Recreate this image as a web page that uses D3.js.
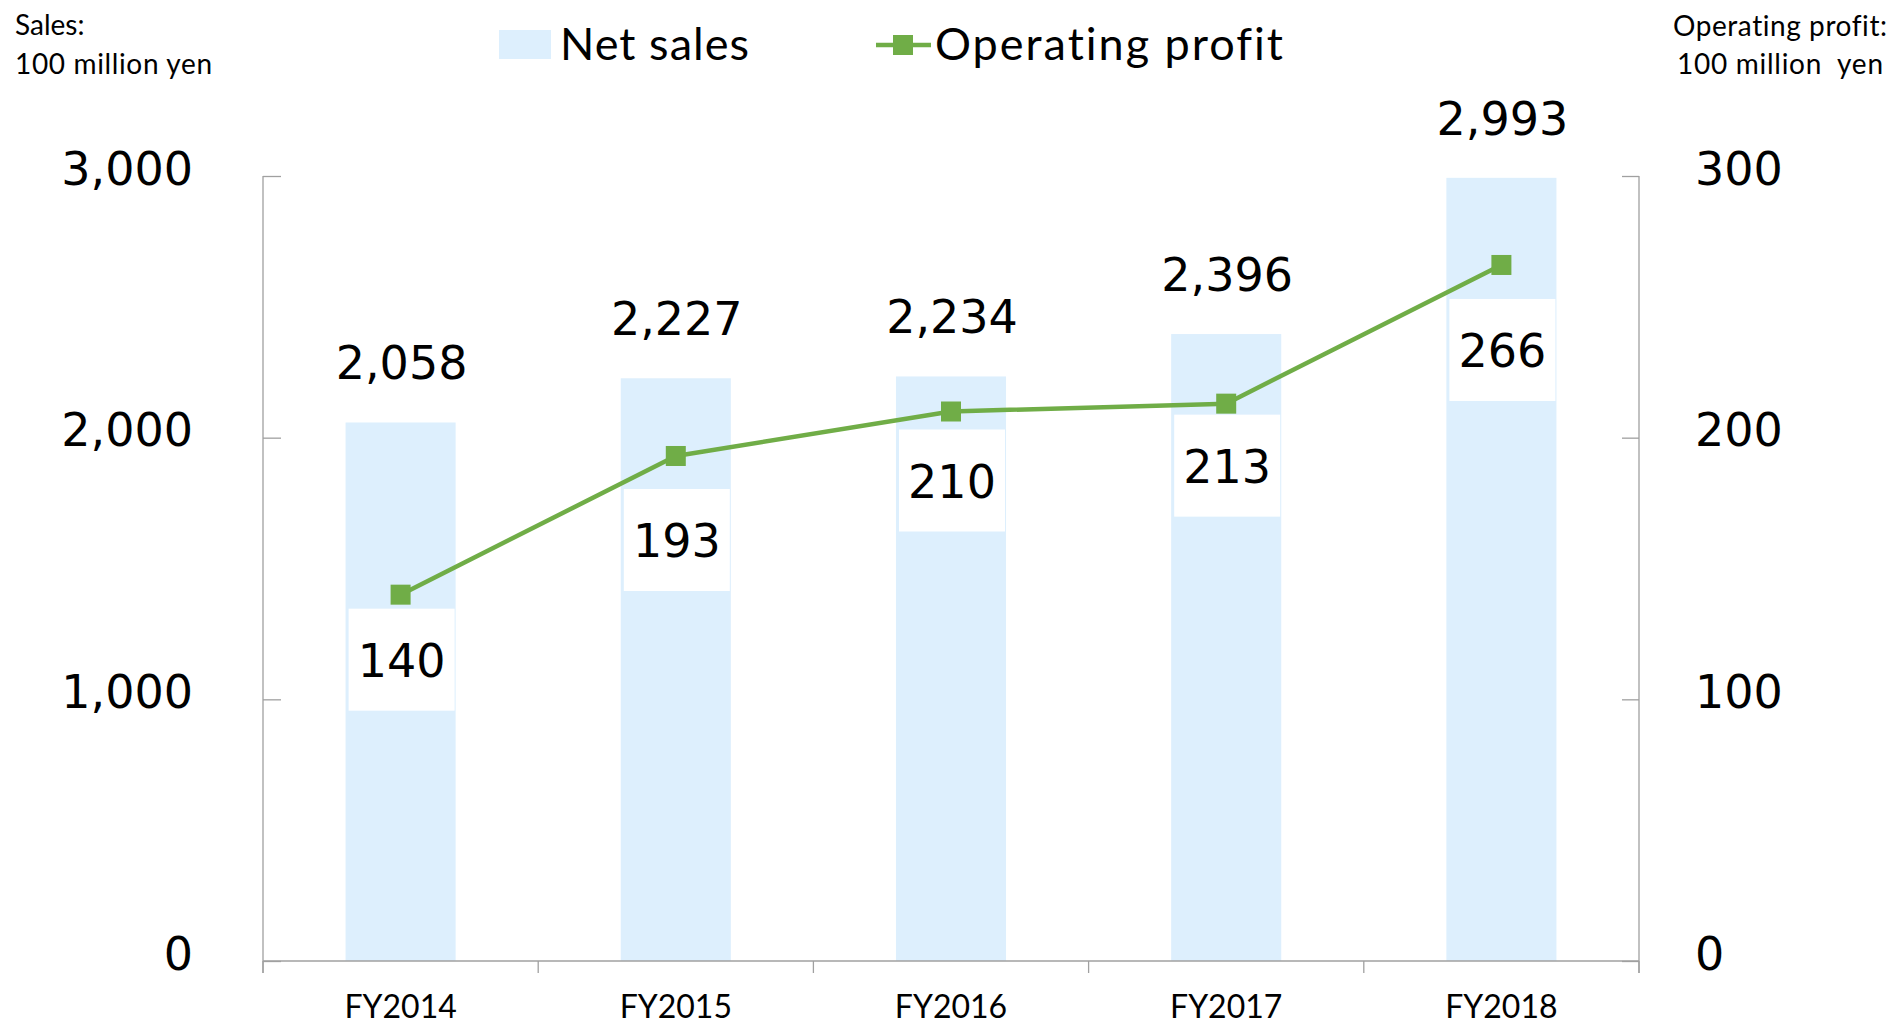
<!DOCTYPE html>
<html>
<head>
<meta charset="utf-8">
<script src="https://cdn.jsdelivr.net/npm/d3@7/dist/d3.min.js"></script>
<style>
  html, body { margin: 0; padding: 0; background: #fff; }
  svg { display: block; }
  text { font-variant-ligatures: none; }
</style>
</head>
<body>
<svg id="chart" width="1894" height="1025"></svg>
<script>
// ---- data ----
const categories = ["FY2014", "FY2015", "FY2016", "FY2017", "FY2018"];
const netSales = [2058, 2227, 2234, 2396, 2993];
const operatingProfit = [140, 193, 210, 213, 266];
const salesTicks = [0, 1000, 2000, 3000];
const profitTicks = [0, 100, 200, 300];

(function () {
// ---- layout ----
const plotL = 263, plotR = 1639, plotT = 176, plotB = 961;
const barColor = "#DDEFFD";
const lineColor = "#70AD47";
const axisColor = "#A0A0A0";
const numFont = "'DejaVu Sans', Verdana, sans-serif";
const txtFont = "Lato, 'Open Sans', sans-serif";

const svg = d3.select("#chart");

const x = d3.scaleBand().domain(categories).range([plotL, plotR])
  .paddingInner(0.6).paddingOuter(0.3);
const yL = d3.scaleLinear().domain([0, 3000]).range([plotB, plotT]);
const yR = d3.scaleLinear().domain([0, 300]).range([plotB, plotT]);
const cx = c => x(c) + x.bandwidth() / 2;

// bars
svg.append("g").selectAll("rect").data(categories).join("rect")
  .attr("x", c => x(c))
  .attr("width", x.bandwidth())
  .attr("y", (c, i) => yL(netSales[i]))
  .attr("height", (c, i) => yL(0) - yL(netSales[i]))
  .attr("fill", barColor);

// axes
const tickExt = 12;
const gAx = svg.append("g").attr("stroke", axisColor).attr("stroke-width", 1.3).attr("fill", "none");
gAx.append("line").attr("x1", plotL).attr("x2", plotL).attr("y1", yL(3000)).attr("y2", yL(0) + tickExt);
gAx.append("line").attr("x1", plotR).attr("x2", plotR).attr("y1", yR(300)).attr("y2", yR(0) + tickExt);
gAx.append("line").attr("x1", plotL).attr("x2", plotR).attr("y1", yL(0)).attr("y2", yL(0));
const boundaries = categories.map(c => x(c) - x.step() * x.paddingOuter()).concat([plotR]);
gAx.selectAll("line.xt").data(boundaries).join("line").attr("class", "xt")
  .attr("x1", d => d).attr("x2", d => d).attr("y1", yL(0)).attr("y2", yL(0) + tickExt);

const leftAxis = d3.axisLeft(yL).tickValues(salesTicks).tickSize(-18).tickPadding(70)
  .tickFormat(d3.format(","));
const gl = svg.append("g").attr("transform", `translate(${plotL},0)`).call(leftAxis);
const rightAxis = d3.axisRight(yR).tickValues(profitTicks).tickSize(-17).tickPadding(56)
  .tickFormat(d3.format(","));
const gr = svg.append("g").attr("transform", `translate(${plotR},0)`).call(rightAxis);
[gl, gr].forEach(g => {
  g.select(".domain").remove();
  g.selectAll(".tick line").attr("stroke", axisColor).attr("stroke-width", 1.3);
  g.selectAll(".tick text").attr("font-family", numFont).attr("font-size", 46)
    .attr("fill", "#000").attr("dy", "0.18em");
});

const bottomAxis = d3.axisBottom(x).tickSize(0).tickPadding(34);
const gb = svg.append("g").attr("transform", `translate(0,${plotB})`).call(bottomAxis);
gb.select(".domain").remove();
gb.selectAll(".tick text").attr("font-family", txtFont).attr("font-size", 32).attr("fill", "#000");

// sales labels
svg.append("g").selectAll("text").data(categories).join("text")
  .attr("x", c => cx(c) + 1)
  .attr("y", (c, i) => yL(netSales[i]) - 43)
  .attr("text-anchor", "middle")
  .attr("font-family", numFont).attr("font-size", 46).attr("fill", "#000")
  .text((c, i) => d3.format(",")(netSales[i]));

// line
const line = d3.line().x(d => cx(d.c)).y(d => yR(d.v));
const pts = categories.map((c, i) => ({ c, v: operatingProfit[i] }));
svg.append("path").datum(pts).attr("d", line)
  .attr("fill", "none").attr("stroke", lineColor).attr("stroke-width", 4.5)
  .attr("stroke-linejoin", "round");
svg.append("g").selectAll("rect").data(pts).join("rect")
  .attr("x", d => cx(d.c) - 10).attr("y", d => yR(d.v) - 10)
  .attr("width", 20).attr("height", 20).attr("fill", lineColor);

// profit labels (manually placed below the markers, as in the source)
const labelDy = [65, 84, 69, 62, 85];
const lg = svg.append("g").selectAll("g").data(pts).join("g")
  .attr("transform", (d, i) => `translate(${cx(d.c) + 1},${yR(d.v) + labelDy[i]})`);
lg.append("rect").attr("x", -53).attr("y", -51).attr("width", 106).attr("height", 102).attr("fill", "#fff");
lg.append("text").attr("text-anchor", "middle").attr("y", 17)
  .attr("font-family", numFont).attr("font-size", 46).attr("fill", "#000")
  .text(d => d.v);

// legend
svg.append("rect").attr("x", 499).attr("y", 30).attr("width", 52).attr("height", 29).attr("fill", barColor);
svg.append("text").attr("x", 560).attr("y", 60).attr("font-family", txtFont).attr("font-size", 45)
  .attr("fill", "#000").attr("textLength", 189).text("Net sales");
svg.append("line").attr("x1", 876).attr("x2", 931).attr("y1", 45).attr("y2", 45)
  .attr("stroke", lineColor).attr("stroke-width", 4.5);
svg.append("rect").attr("x", 893).attr("y", 35).attr("width", 20).attr("height", 20).attr("fill", lineColor);
svg.append("text").attr("x", 935).attr("y", 60).attr("font-family", txtFont).attr("font-size", 45)
  .attr("fill", "#000").attr("textLength", 348).text("Operating profit");

// axis titles
svg.append("text").attr("x", 15).attr("y", 35).attr("font-family", txtFont).attr("font-size", 28)
  .attr("fill", "#000").text("Sales:");
svg.append("text").attr("x", 15).attr("y", 74).attr("font-family", txtFont).attr("font-size", 28)
  .attr("fill", "#000").attr("textLength", 197).text("100 million yen");
svg.append("text").attr("x", 1673).attr("y", 36).attr("font-family", txtFont)
  .attr("font-size", 28).attr("fill", "#000").attr("textLength", 214).text("Operating profit:");
svg.append("text").attr("x", 1677).attr("y", 74).attr("font-family", txtFont)
  .attr("font-size", 28).attr("fill", "#000").attr("textLength", 206)
  .style("white-space", "pre").text("100 million  yen");
})();
</script>
</body>
</html>
